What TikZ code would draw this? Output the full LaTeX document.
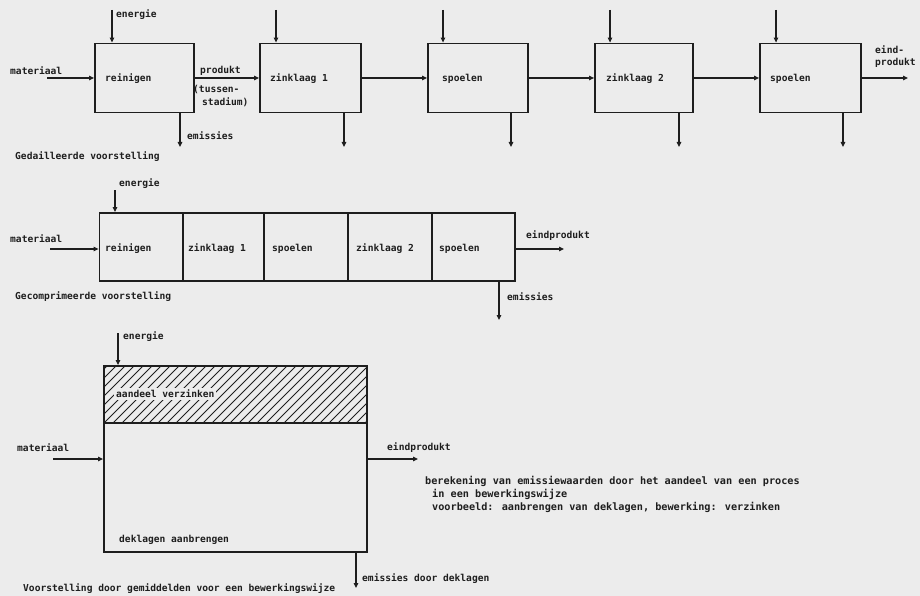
\documentclass[tikz,border=0pt]{standalone}
\usepackage{fontspec}
\setmainfont{DejaVu Sans Mono}
\usetikzlibrary{arrows.meta}
\definecolor{paper}{HTML}{ECECEC}
\definecolor{ink}{HTML}{1E1E1E}
\tikzset{
  lbl/.style={anchor=west,inner sep=0pt,font=\fontsize{9.6}{11}\selectfont\bfseries,text=ink},
  wide/.style={font=\fontsize{10.2}{11}\selectfont\bfseries},
  pbox/.style={draw=ink,line width=1.8pt,inner sep=0pt},
  flow/.style={draw=ink,line width=1.1pt,-{Triangle[length=5pt,width=4.5pt]}},
  hatch/.style={draw=ink,line width=0.9pt}
}
\begin{document}
\begin{tikzpicture}[x=1pt,y=-1pt]
\fill[paper] (0,0) rectangle (920,596);
\useasboundingbox (0,0) rectangle (920,596);

% ---------- Top row: gedetailleerde voorstelling ----------
\node[pbox,minimum width=99pt,minimum height=69pt] (b1) at (144.5,78) {};
\node[pbox,minimum width=101pt,minimum height=69pt] (b2) at (310.5,78) {};
\node[pbox,minimum width=100pt,minimum height=69pt] (b3) at (478,78) {};
\node[pbox,minimum width=98pt,minimum height=69pt] (b4) at (644,78) {};
\node[pbox,minimum width=101pt,minimum height=69pt] (b5) at (810.5,78) {};

\node[lbl] (t1) at (105,79) {reinigen};
\node[lbl] (t2) at (270,79) {zinklaag 1};
\node[lbl] (t3) at (442,79) {spoelen};
\node[lbl] (t4) at (606,79) {zinklaag 2};
\node[lbl] (t5) at (770,79) {spoelen};

\coordinate (min1) at (47,78);
\coordinate (e1) at (112,10);
\coordinate (e2) at (276,10);
\coordinate (e3) at (443,10);
\coordinate (e4) at (610,10);
\coordinate (e5) at (776,10);
\coordinate (o1) at (180,147);
\coordinate (o2) at (344,147);
\coordinate (o3) at (511,147);
\coordinate (o4) at (679,147);
\coordinate (o5) at (843,147);
\coordinate (pout) at (908,78);

\draw[flow] (min1) -- (b1.west);
\draw[flow] (b1.east) -- (b2.west);
\draw[flow] (b2.east) -- (b3.west);
\draw[flow] (b3.east) -- (b4.west);
\draw[flow] (b4.east) -- (b5.west);
\draw[flow] (b5.east) -- (pout);
\foreach \i in {1,...,5}{
  \draw[flow] (e\i) -- (e\i |- b\i.north);
  \draw[flow] (o\i |- b\i.south) -- (o\i);
}

\node[lbl] (lmat1) at (10,71) {materiaal};
\node[lbl] (len1) at (116,15) {energie};
\node[lbl] (lprod) at (200,71) {produkt};
\node[lbl] (ltus) at (193,89) {(tussen-};
\node[lbl] (lsta) at (202,102) {stadium)};
\node[lbl] (lem1) at (187,136) {emissies};
\node[lbl] (leind) at (875,50) {eind-};
\node[lbl] (leind2) at (875,63) {produkt};
\node[lbl] (cap1) at (15,157) {Gedailleerde voorstelling};

% ---------- Middle row: gecomprimeerde voorstelling ----------
\node[pbox,minimum width=83.5pt,minimum height=68pt] (m1) at (141.25,247) {};
\node[pbox,minimum width=81pt,minimum height=68pt] (m2) at (223.5,247) {};
\node[pbox,minimum width=84pt,minimum height=68pt] (m3) at (306,247) {};
\node[pbox,minimum width=84pt,minimum height=68pt] (m4) at (390,247) {};
\node[pbox,minimum width=83pt,minimum height=68pt] (m5) at (473.5,247) {};

\node[lbl] (s1) at (105,249) {reinigen};
\node[lbl] (s2) at (188,249) {zinklaag 1};
\node[lbl] (s3) at (272,249) {spoelen};
\node[lbl] (s4) at (356,249) {zinklaag 2};
\node[lbl] (s5) at (439,249) {spoelen};

\coordinate (min2) at (50,249);
\coordinate (en2) at (115,190);
\coordinate (out2) at (564,249);
\coordinate (em2) at (499,320);
\draw[flow] (min2) -- (min2 -| m1.west);
\draw[flow] (en2) -- (en2 |- m1.north);
\draw[flow] (out2 -| m5.east) -- (out2);
\draw[flow] (em2 |- m5.south) -- (em2);

\node[lbl] (lmat2) at (10,239) {materiaal};
\node[lbl] (len2) at (119,184) {energie};
\node[lbl] (leind3) at (526,236) {eindprodukt};
\node[lbl] (lem2) at (507,297) {emissies};
\node[lbl] (cap2) at (15,297) {Gecomprimeerde voorstelling};

% ---------- Bottom: gemiddelde voor een bewerkingswijze ----------
\begin{scope}
  \clip (104,366) rectangle (367,423);
  \foreach \k in {0,...,36}{
    \draw[hatch] (50+\k*9,423) -- ++(57,-57);
  }
\end{scope}
\node[pbox,minimum width=263pt,minimum height=186pt] (big) at (235.5,459) {};
\draw[draw=ink,line width=1.6pt] (big.west |- 0,423) coordinate (bandl) -- (big.east |- 0,423) coordinate (bandr);

\node[lbl,fill=paper,inner sep=2pt] (laan) at (114,394) {aandeel verzinken};
\node[lbl] (ldek) at (119,540) {deklagen aanbrengen};

\coordinate (en3) at (118,333);
\coordinate (min3) at (53,459);
\coordinate (out3) at (418,459);
\coordinate (em3) at (356,588);
\draw[flow] (en3) -- (en3 |- big.north);
\draw[flow] (min3) -- (min3 -| big.west);
\draw[flow] (out3 -| big.east) -- (out3);
\draw[flow] (em3 |- big.south) -- (em3);

\node[lbl] (len3) at (123,337) {energie};
\node[lbl] (lmat3) at (17,448) {materiaal};
\node[lbl] (leind4) at (387,448) {eindprodukt};
\node[lbl] (lem3) at (362,579) {emissies door deklagen};
\node[lbl] (cap3) at (23,589) {Voorstelling door gemiddelden voor een bewerkingswijze};

\node[lbl,wide] (r1) at (425,481) {berekening van emissiewaarden door het aandeel van een proces};
\node[lbl,wide] (r2) at (432,494) {in een bewerkingswijze};
\node[lbl,wide] (r3) at (432,507) {voorbeeld: aanbrengen van deklagen, bewerking: verzinken};
\end{tikzpicture}
\end{document}
